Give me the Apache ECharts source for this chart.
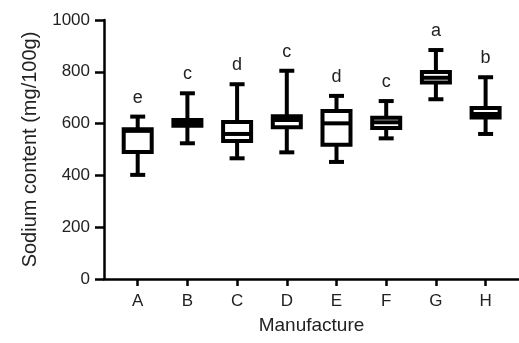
<!DOCTYPE html>
<html>
<head>
<meta charset="utf-8">
<script src="https://cdn.jsdelivr.net/npm/echarts@6/dist/echarts.min.js"></script>
<style>
html,body{margin:0;padding:0;background:#fff;}
#main{width:519px;height:343px;}
</style>
</head>
<body>
<div id="main"></div>
<script>
//厂家
var manufacturers=['A','B','C','D','E','F','G','H'];
//箱线图数据: min, Q1, median, Q3, max
var minVals=[402,524,466,489,452,543,694,560];
var q1Vals=[490,592,533,586,518,583,759,624];
var medianVals=[572,600,560,614,601,605,777,637];
var q3Vals=[578,614,606,628,649,623,799,660];
var maxVals=[627,717,752,804,707,687,884,779];
//显著性字母
var groupLetters=['e','c','d','c','d','c','a','b'];

var boxData=[];
for(var i=0;i<manufacturers.length;i++){
	boxData.push([i,minVals[i],q1Vals[i],medianVals[i],q3Vals[i],maxVals[i]]);
}

var boxW=28, capW=15, lw=4;

function renderBox(params,api){
	var x=api.value(0);
	var pMin=api.coord([x,api.value(1)]);
	var pQ1=api.coord([x,api.value(2)]);
	var pMed=api.coord([x,api.value(3)]);
	var pQ3=api.coord([x,api.value(4)]);
	var pMax=api.coord([x,api.value(5)]);
	var cx=pMin[0];
	var st={stroke:'#000',lineWidth:lw,fill:null};
	return {
		type:'group',
		children:[
			{type:'line',shape:{x1:cx,y1:pMin[1],x2:cx,y2:pMax[1]},style:st},
			{type:'line',shape:{x1:cx-capW/2,y1:pMin[1],x2:cx+capW/2,y2:pMin[1]},style:st},
			{type:'line',shape:{x1:cx-capW/2,y1:pMax[1],x2:cx+capW/2,y2:pMax[1]},style:st},
			{type:'rect',shape:{x:cx-boxW/2,y:pQ3[1],width:boxW,height:pQ1[1]-pQ3[1]},style:{stroke:'#000',lineWidth:lw,fill:'#fff'}},
			{type:'line',shape:{x1:cx-boxW/2,y1:pMed[1],x2:cx+boxW/2,y2:pMed[1]},style:st},
			{type:'text',x:cx,y:pMax[1]-19,style:{text:groupLetters[params.dataIndex],fill:'#222',font:'18px "Liberation Sans", Arial',align:'center',verticalAlign:'middle'}}
		]
	};
}

var chart=echarts.init(document.getElementById('main'));
var options={
	backgroundColor:'#ffffff',
	animation:false,
	grid:{left:104,right:0,top:20,bottom:64},
	xAxis:{
		type:'value',
		min:-0.678,
		max:7.672,
		name:'Manufacture',
		nameLocation:'middle',
		nameGap:37,
		nameTextStyle:{color:'#222',fontSize:19,fontFamily:'Liberation Sans'},
		splitLine:{show:false},
		axisLine:{show:true,onZero:false,lineStyle:{color:'#000',width:2.5}},
		axisTick:{show:true,length:7,lineStyle:{color:'#000',width:2.5},customValues:[0,1,2,3,4,5,6,7]},
		axisLabel:{
			margin:14,
			color:'#222',
			fontSize:17,
			fontFamily:'Liberation Sans',
			customValues:[0,1,2,3,4,5,6,7],
			formatter:function(v){return manufacturers[Math.round(v)];}
		}
	},
	yAxis:{
		type:'value',
		min:0,
		max:1000,
		interval:200,
		name:'Sodium content (mg/100g)',
		nameLocation:'middle',
		nameGap:64,
		nameTextStyle:{color:'#222',fontSize:20,fontFamily:'Liberation Sans'},
		splitLine:{show:false},
		axisLine:{show:true,onZero:false,lineStyle:{color:'#000',width:2.5}},
		axisTick:{show:true,length:9,lineStyle:{color:'#000',width:2.5}},
		axisLabel:{margin:14,color:'#222',fontSize:17,fontFamily:'Liberation Sans',formatter:function(v){return String(v);}}
	},
	series:[
		{
			type:'custom',
			renderItem:renderBox,
			encode:{x:0,y:[1,2,3,4,5]},
			data:boxData,
			clip:false
		}
	]
};
chart.setOption(options);
</script>
</body>
</html>
